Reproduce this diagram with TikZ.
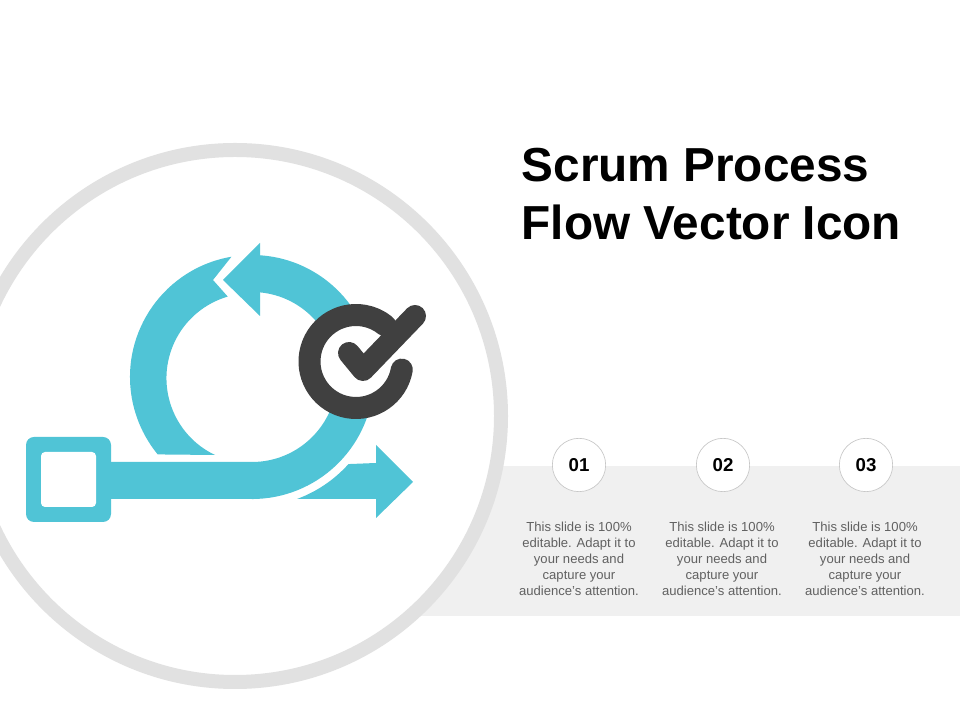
\documentclass[tikz,border=0pt]{standalone}
\usepackage{fontspec}
\setmainfont{Liberation Sans}
\definecolor{teal}{HTML}{50C4D6}
\definecolor{ringgray}{HTML}{E1E1E1}
\definecolor{bandgray}{HTML}{F0F0F0}
\definecolor{badgegray}{HTML}{404040}
\tikzset{
  numcircle/.style={draw=black!22, fill=white, circle, line width=.5pt, minimum size=40pt, inner sep=0pt,
    font=\fontsize{14}{14}\selectfont\bfseries},
  bodytext/.style={align=center, text=black!62, font=\fontsize{9.8}{12}\selectfont},
  badgeline/.style={draw=badgegray, line width=16.5pt, line cap=round, line join=round}
}
\begin{document}
\begin{tikzpicture}[x=.75pt, y=.75pt]
  \clip (0,0) rectangle (960,720);
  \fill[white] (0,0) rectangle (960,720);
  \fill[bandgray] (400,104) rectangle (960,254);
  \path[draw=ringgray, fill=white, line width=10.5pt] (235,304) circle (266);

  \node[anchor=west, align=left, font=\fontsize{35.8}{43}\selectfont\bfseries] (title) at (517,526)
    {Scrum Process\\Flow Vector Icon};

  % loop arrow
  \coordinate (loop) at (252,343);
  \fill[teal] (252,221) -- (110,221) -- (110,258) -- (252,258)
    arc[start angle=-90, end angle=84.6, radius=85]
    -- (260,404) -- (223,440) -- (260,477) -- (260,464.7)
    arc[start angle=86.2, end angle=-90, radius=122] -- cycle;
  \fill[teal] (loop) ++(99.7:122) arc[start angle=99.7, end angle=219.4, radius=122]
    -- (215,265) arc[start angle=244.6, end angle=106.2, radius=85]
    -- (213,440) -- cycle;
  \fill[teal] (297,221) arc[start angle=-69.8, end angle=-41.9, radius=129]
    -- (376,257) -- (376,275) -- (413,238) -- (376,202) -- (376,221) -- cycle;

  % start box
  \fill[teal, rounded corners=6pt] (26,198) rectangle (111,283);
  \fill[white, rounded corners=3pt] (41,213) rectangle (96,268);

  % check badge
  \coordinate (badge) at (356,358.5);
  \fill[white] (badge) circle (46);
  \path[badgeline] (badge) ++(-10:46.5) arc[start angle=-10, end angle=-309, radius=46.5];
  \path[badgeline] (349,367) -- (363,350) -- (415,404);

  \foreach \i/\x/\tx in {01/579/579, 02/723/722, 03/866/865}
  {
    \node[numcircle] (num\i) at (\x,255) {\i};
    \node[bodytext] (text\i) at (\tx,161) {This slide is 100\%\\editable. Adapt it to\\your needs and\\capture your\\audience's attention.};
  }
\end{tikzpicture}
\end{document}
